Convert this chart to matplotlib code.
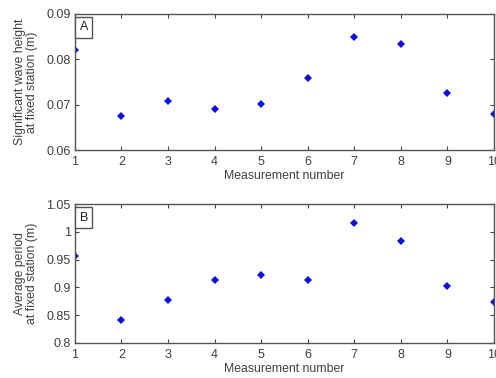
import matplotlib
matplotlib.use("Agg")
import matplotlib.pyplot as plt
from matplotlib.ticker import FuncFormatter

plt.rcParams['font.family'] = ['Liberation Sans', 'DejaVu Sans']

measurement = [1, 2, 3, 4, 5, 6, 7, 8, 9, 10]
wave_height = [0.0821, 0.0674, 0.0708, 0.0690, 0.0701, 0.0758, 0.0850, 0.0833, 0.0725, 0.0679]
avg_period = [0.957, 0.841, 0.877, 0.914, 0.922, 0.914, 1.016, 0.983, 0.903, 0.874]

height_ticks = [0.06, 0.07, 0.08, 0.09]
period_ticks = [0.8, 0.85, 0.9, 0.95, 1.0, 1.05]

text_col = '#404040'
edge_col = '#555555'

fig = plt.figure(figsize=(4.96, 3.78), dpi=100)
ax1 = fig.add_axes([0.151, 0.603, 0.845, 0.360])
ax2 = fig.add_axes([0.151, 0.0926, 0.845, 0.3677])


def style(ax, yvals, ticks, ylabel, tag, fmt):
    ax.plot(measurement, yvals, linestyle='none', marker='D', markersize=4.2,
            color='#1010e0', markeredgewidth=0)
    ax.set_xlim(1, 10)
    ax.set_ylim(ticks[0], ticks[-1])
    ax.set_xticks(measurement)
    ax.set_yticks(ticks)
    ax.yaxis.set_major_formatter(FuncFormatter(fmt))
    ax.tick_params(direction='in', top=True, right=True, length=3,
                   labelsize=9, colors=text_col)
    ax.tick_params(axis='x', pad=4)
    ax.tick_params(axis='y', pad=3)
    for s in ax.spines.values():
        s.set_color(edge_col)
        s.set_linewidth(1.0)
    ax.set_xlabel('Measurement number', fontsize=8.8, color=text_col, labelpad=2)
    ax.set_ylabel(ylabel, fontsize=8.8, color=text_col, labelpad=6,
                  linespacing=1.0)
    ax.text(0.011, 0.945, tag, transform=ax.transAxes, va='top', ha='left',
            fontsize=9, color='#222222',
            bbox=dict(boxstyle='square,pad=0.35', fc='white', ec=edge_col, lw=1.0))


style(ax1, wave_height, height_ticks,
      'Significant wave height\nat fixed station (m)', 'A',
      lambda v, p: '%.2f' % v)
style(ax2, avg_period, period_ticks,
      'Average period\nat fixed station (m)', 'B',
      lambda v, p: '%g' % round(v, 2))

fig.savefig('out.png', dpi=100)
